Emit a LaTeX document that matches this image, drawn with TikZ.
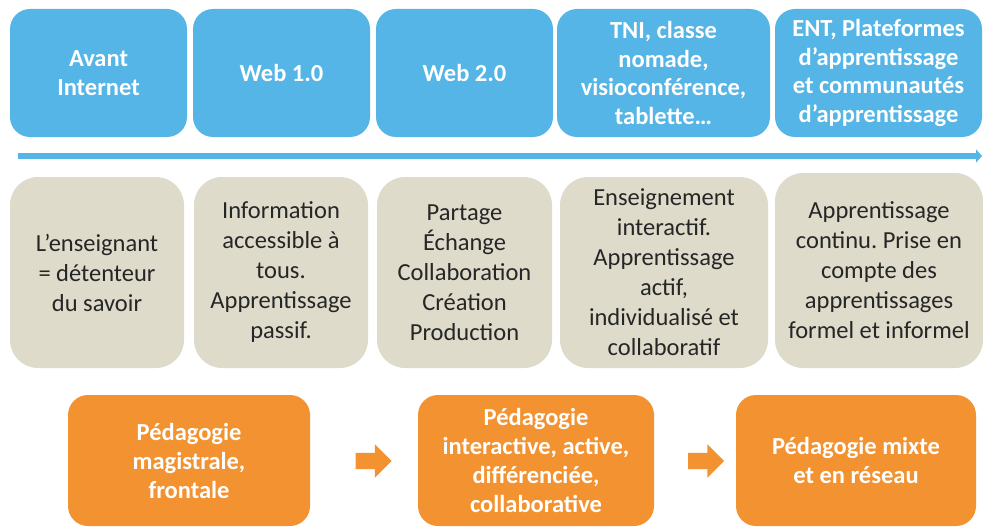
\documentclass[tikz,border=0pt]{standalone}
\usepackage{fontspec}
\setmainfont{Carlito}
\usetikzlibrary{shapes.arrows,arrows.meta}
\definecolor{topblue}{HTML}{55B5E6}
\definecolor{beige}{HTML}{DEDBCB}
\definecolor{orangebox}{HTML}{F39230}
\definecolor{darktext}{HTML}{262626}
\frenchspacing
\tikzset{
  x=1pt, y=-1pt,
  topbox/.style={fill=topblue, rounded corners=20pt, minimum height=128pt, inner sep=0pt,
    text=white, align=center, font=\fontsize{24.5}{28.5}\selectfont\bfseries},
  midbox/.style={fill=beige, rounded corners=28pt, minimum height=191pt, inner sep=0pt,
    text=darktext, align=center, font=\fontsize{24.5}{30}\selectfont},
  pedbox/.style={fill=orangebox, rounded corners=20pt, minimum height=131pt, inner sep=0pt,
    text=white, align=center, font=\fontsize{24.5}{29}\selectfont\bfseries},
  blockarrow/.style={shape=single arrow, fill=orangebox, draw=none,
    inner xsep=0pt, inner ysep=8pt, text height=0pt, text depth=0pt,
    minimum width=33pt, minimum height=36pt, single arrow head extend=8.5pt,
    single arrow head indent=0pt},
  timeline/.style={draw=topblue, line width=5.5pt, -{Triangle[length=6pt,width=13pt]}}
}
\begin{document}
\begin{tikzpicture}
\useasboundingbox (0,0) rectangle (983,527);
% top row
\node[topbox, minimum width=177pt] (t1) at (98.5,73) {Avant\\Internet};
\node[topbox, minimum width=177pt] (t2) at (281.5,73) {Web 1.0};
\node[topbox, minimum width=177pt] (t3) at (464.5,73) {Web 2.0};
\node[topbox, minimum width=213pt] (t4) at (663.5,73) {TNI, classe\\nomade,\\visioconférence,\\tablette…};
\node[topbox, minimum width=207pt] (t5) at (878.5,73) {ENT, Plateformes\\d’apprentissage\\et communautés\\d’apprentissage};
% timeline
\coordinate (tl) at (18,156);
\coordinate (tr) at (982,156);
\draw[timeline] (tl) -- (tr);
% middle row
\node[midbox, minimum width=174pt] (g1) at (97,272.5) {L’enseignant\\= détenteur\\du savoir};
\node[midbox, minimum width=174pt] (g2) at (281,272.5) {Information\\accessible à\\tous.\\Apprentissage\\passif.};
\node[midbox, minimum width=175pt] (g3) at (464.5,272.5) {Partage\\Échange\\Collaboration\\Création\\Production};
\node[midbox, minimum width=208pt] (g4) at (664,272.5) {Enseignement\\interactif.\\Apprentissage\\actif,\\individualisé et\\collaboratif};
\node[midbox, minimum width=208pt, minimum height=195pt] (g5) at (879,270.5) {Apprentissage\\continu. Prise en\\compte des\\apprentissages\\formel et informel};
% bottom row
\node[pedbox, minimum width=242pt] (o1) at (189,460.5) {Pédagogie\\magistrale,\\frontale};
\node[pedbox, minimum width=236pt] (o2) at (536,460.5) {Pédagogie\\interactive, active,\\différenciée,\\collaborative};
\node[pedbox, minimum width=240pt] (o3) at (856,460.5) {Pédagogie mixte\\et en réseau};
\node[blockarrow] (a1) at (369.5,461) {};
\node[blockarrow] (a2) at (702,461) {};
\end{tikzpicture}
\end{document}
